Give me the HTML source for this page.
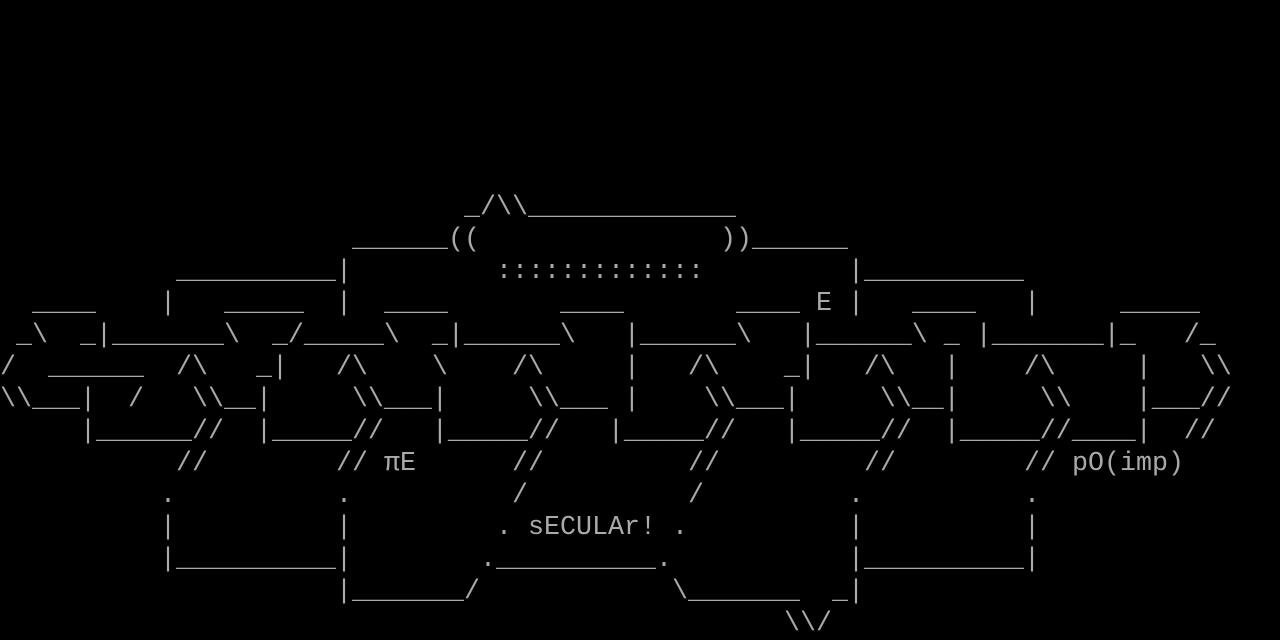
<!DOCTYPE html>
<html><head><meta charset="utf-8"><style>
html,body{margin:0;padding:0;background:#000;}
body{width:1280px;height:640px;position:relative;overflow:hidden;}
.r{position:absolute;left:0;width:1280px;height:32px;white-space:pre;font-family:"Liberation Mono",monospace;font-size:26.67px;line-height:32px;color:#aaaaaa;}
.r span{position:absolute;top:0;}
</style></head><body>
<div class="r" style="top:192px"><span style="left:464px">_/\\_____________</span></div>
<div class="r" style="top:224px"><span style="left:352px">______((</span><span style="left:720px">))______</span></div>
<div class="r" style="top:256px"><span style="left:176px">__________|</span><span style="left:496px">:::::::::::::</span><span style="left:848px">|__________</span></div>
<div class="r" style="top:288px"><span style="left:32px">____</span><span style="left:160px">|</span><span style="left:224px">_____</span><span style="left:336px">|</span><span style="left:384px">____</span><span style="left:560px">____</span><span style="left:736px">____ E |</span><span style="left:912px">____</span><span style="left:1024px">|</span><span style="left:1120px">_____</span></div>
<div class="r" style="top:320px"><span style="left:0px"> _\  _|_______\  _/_____\  _|______\   |______\   |______\ _ |_______|_   /_</span></div>
<div class="r" style="top:352px"><span style="left:0px">/  ______  /\   _|   /\    \    /\     |   /\    _|   /\   |    /\     |   \\</span></div>
<div class="r" style="top:384px"><span style="left:0px">\\___|  /   \\__|     \\___|     \\___ |    \\___|     \\__|     \\    |___//</span></div>
<div class="r" style="top:416px"><span style="left:80px">|______//  |_____//   |_____//   |_____//   |_____//  |_____//____|  //</span></div>
<div class="r" style="top:448px"><span style="left:176px">//</span><span style="left:336px">// πE</span><span style="left:512px">//</span><span style="left:688px">//</span><span style="left:864px">//</span><span style="left:1024px">// pO(imp)</span></div>
<div class="r" style="top:480px"><span style="left:160px">.</span><span style="left:336px">.</span><span style="left:512px">/</span><span style="left:688px">/</span><span style="left:848px">.</span><span style="left:1024px">.</span></div>
<div class="r" style="top:512px"><span style="left:160px">|</span><span style="left:336px">|</span><span style="left:496px">. sECULAr! .</span><span style="left:848px">|</span><span style="left:1024px">|</span></div>
<div class="r" style="top:544px"><span style="left:160px">|__________|</span><span style="left:480px">.__________.</span><span style="left:848px">|__________|</span></div>
<div class="r" style="top:576px"><span style="left:336px">|_______/</span><span style="left:672px">\_______  _|</span></div>
<div class="r" style="top:608px"><span style="left:784px">\\/</span></div>
</body></html>
